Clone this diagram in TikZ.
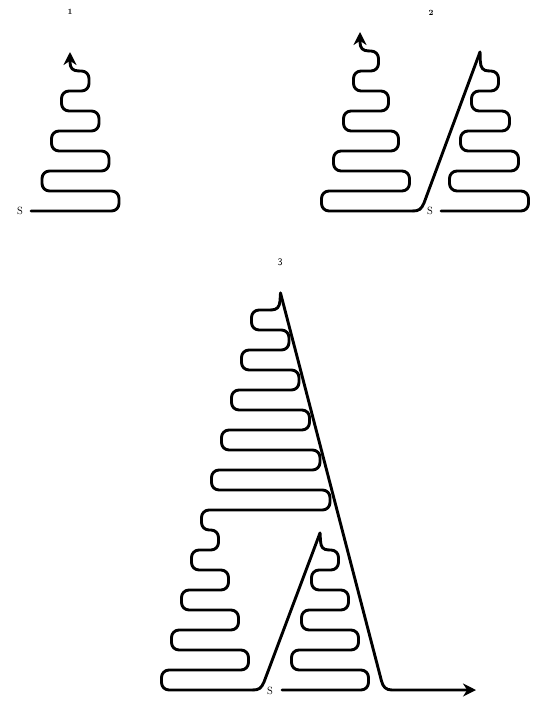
\documentclass[tikz,border=0pt]{standalone}
\usetikzlibrary{arrows.meta}
\begin{document}
\begin{tikzpicture}[x=1pt,y=-1pt,
  wire/.style={line width=2.9pt,line cap=round,line join=round,rounded corners=7.5pt},
  curl/.style={line width=2.9pt,line cap=round,line join=round,sharp corners},
  tipped/.style={-{Stealth[length=13pt,width=13pt]}},
  numlab/.style={font=\bfseries\footnotesize,inner sep=0pt},
  slab/.style={font=\fontsize{10.5}{12}\selectfont,inner sep=0pt}]
\useasboundingbox (0,0) rectangle (540,701);

% labels
\node[numlab] (n1) at (70,12) {1};
\node[numlab] (n2) at (431,13) {2};
\node[inner sep=0pt,font=\sffamily\normalsize] (n3) at (280,262) {3};
\node[slab] (s1) at (20,211) {S};
\node[slab] (s2) at (430,211) {S};
\node[slab] (s3) at (270,691) {S};

% ---- panel 1
\draw[wire] (31,211) -- (119,211) -- (119,191) -- (42,191) -- (42,171)
  -- (109,171) -- (109,151) -- (51.5,151) -- (51.5,131) -- (99,131) -- (99,111)
  -- (61.5,111) -- (61.5,91) -- (89,91) -- (89,71) -- (79,71);
\draw[curl,tipped] (79,71) .. controls (72.5,71) and (70,68) .. (70,62) -- (70,52);

% ---- panel 2, right tree
\draw[wire] (441,211) -- (528.5,211) -- (528.5,191) -- (449.5,191) -- (449.5,171)
  -- (518.5,171) -- (518.5,151) -- (460.5,151) -- (460.5,131) -- (509.5,131)
  -- (509.5,111) -- (471.5,111) -- (471.5,91) -- (498.5,91) -- (498.5,71)
  -- (489,71);
\draw[curl] (489,71) .. controls (483,71) and (480.5,68) .. (480.3,61) -- (480,52);
% ---- panel 2, diagonal and left tree
\draw[curl] (480,52) -- (424,203) .. controls (421.5,209) and (419,211) .. (413,211);
\draw[wire] (413,211)
  -- (321.5,211) -- (321.5,191) -- (409.5,191) -- (409.5,171) -- (333.5,171)
  -- (333.5,151) -- (398.5,151) -- (398.5,131) -- (343.5,131) -- (343.5,111)
  -- (388.5,111) -- (388.5,91) -- (353.5,91) -- (353.5,71) -- (378.5,71)
  -- (378.5,51) -- (369,51);
\draw[curl,tipped] (369,51) .. controls (362.5,51) and (360,48) .. (360,42) -- (360,32);

% ---- panel 3, small tree
\draw[wire] (282,690) -- (368.5,690) -- (368.5,670) -- (291.5,670) -- (291.5,650)
  -- (358.5,650) -- (358.5,630) -- (301.5,630) -- (301.5,610) -- (348.5,610)
  -- (348.5,590) -- (311.5,590) -- (311.5,570) -- (338.5,570) -- (338.5,550)
  -- (329,550);
\draw[curl] (329,550) .. controls (323,550) and (320.8,547) .. (320.5,541) -- (320,533);
% ---- panel 3, small diagonal
\draw[curl] (320,533) -- (264,682) .. controls (261.5,688) and (259,690) .. (253,690);
% ---- panel 3, big tree
\draw[wire] (253,690)
  -- (161.5,690) -- (161.5,670) -- (248.5,670) -- (248.5,650) -- (171.5,650)
  -- (171.5,630) -- (238.5,630) -- (238.5,610) -- (181.5,610) -- (181.5,590)
  -- (228.5,590) -- (228.5,570) -- (191.5,570) -- (191.5,550) -- (218.5,550)
  -- (218.5,530) -- (201.5,530) -- (201.5,510) -- (330,510) -- (330,490)
  -- (211.5,490) -- (211.5,470) -- (320,470) -- (320,450) -- (221.5,450)
  -- (221.5,430) -- (309.5,430) -- (309.5,410) -- (231.5,410) -- (231.5,390)
  -- (299,390) -- (299,370) -- (241.5,370) -- (241.5,350) -- (289,350)
  -- (289,330) -- (251.5,330) -- (251.5,310) -- (271,310);
\draw[curl] (271,310) .. controls (277,310) and (279.5,307) .. (280,301) -- (280.5,293);
% ---- panel 3, long diagonal to exit
\draw[curl,tipped] (280.5,293) -- (381.5,681) .. controls (383,687) and (386,690) .. (392,690)
  -- (476,690);
\end{tikzpicture}
\end{document}
